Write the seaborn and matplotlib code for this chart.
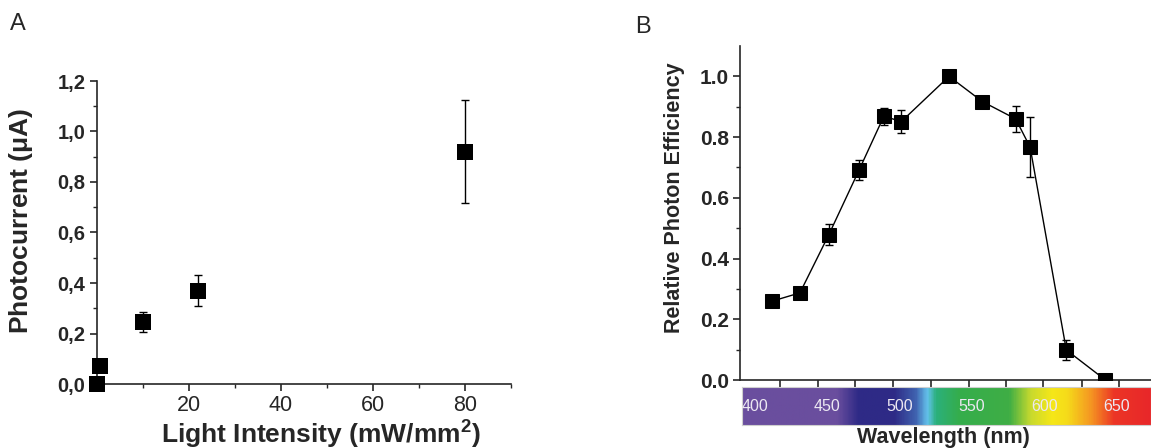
import numpy as np
import pandas as pd
import matplotlib
matplotlib.use("Agg")
import matplotlib.pyplot as plt
import seaborn as sns
from matplotlib.colors import LinearSegmentedColormap
from matplotlib.ticker import FixedLocator

# ---------------- data ----------------
# Panel A
intensity = [0.0, 0.65, 10.0, 22.0, 80.0]
photocurrent = [0.0, 0.07, 0.245, 0.37, 0.92]
photocurrent_err = [0.0, 0.0, 0.04, 0.06, 0.205]
a_yticks = [0.0, 0.2, 0.4, 0.6, 0.8, 1.0, 1.2]
a_yticklabels = ["0,0", "0,2", "0,4", "0,6", "0,8", "1,0", "1,2"]
a_yminor = [0.1, 0.3, 0.5, 0.7, 0.9, 1.1]
a_xticks = [20, 40, 60, 80]
a_xminor = [10, 30, 50, 70, 90]

# Panel B
wavelength = [412, 431, 451, 472, 489, 501, 534, 557, 580, 590, 615, 642]
efficiency = [0.26, 0.287, 0.479, 0.693, 0.869, 0.851, 1.0, 0.917, 0.86, 0.767, 0.099, 0.0]
efficiency_err = [0.01, 0.01, 0.035, 0.033, 0.028, 0.038, 0.005, 0.012, 0.042, 0.099, 0.033, 0.005]
b_yticks = [0.0, 0.2, 0.4, 0.6, 0.8, 1.0]
b_yticklabels = ["0.0", "0.2", "0.4", "0.6", "0.8", "1.0"]
b_yminor = [0.1, 0.3, 0.5, 0.7, 0.9]
b_xticks = [417.3, 443.2, 469.3, 495.5, 521.3, 547.6, 573.3, 599.1, 625.6, 651.4]
spectrum_labels = [400, 450, 500, 550, 600, 650]
spectrum_stops = [389.6, 455, 470, 495, 510, 518, 524, 540, 575, 590, 605, 615, 632, 648, 673.5]
spectrum_colors = ["#6a4e9e", "#6a4e9e", "#2e2a86", "#2e2a86", "#4063b0", "#64c3ec",
                   "#2bb07c", "#35ad4c", "#3fae45", "#c8da2e", "#f6e718", "#f5dc1a",
                   "#f59522", "#ec3526", "#e8272a"]

# ---------------- style ----------------
sns.set_style("ticks")
plt.rcParams['font.family'] = ['Liberation Sans', 'DejaVu Sans']
plt.rcParams['mathtext.fontset'] = 'custom'
plt.rcParams['mathtext.rm'] = 'Liberation Sans'
plt.rcParams['mathtext.bf'] = 'Liberation Sans:bold'

W, H = 1151, 448
fig = plt.figure(figsize=(W / 100, H / 100), dpi=100)

def frac(x0, x1, ytop, ybot):
    return [x0 / W, (H - ybot) / H, (x1 - x0) / W, (ybot - ytop) / H]

# ---------------- Panel A ----------------
axA = fig.add_axes(frac(96.7, 511, 81, 384))
dfA = pd.DataFrame({"x": intensity, "y": photocurrent})
axA.errorbar(intensity, photocurrent, yerr=photocurrent_err, fmt='none',
             ecolor='black', elinewidth=1, capsize=3, capthick=1, clip_on=False)
sns.scatterplot(data=dfA, x="x", y="y", marker='s', s=120, color='black',
                edgecolor='black', linewidth=0, ax=axA, clip_on=False, zorder=3)
axA.set_xlim(0, 90)
axA.set_ylim(0, 1.2)
axA.set_yticks(a_yticks)
axA.set_yticklabels(a_yticklabels, fontsize=14.5, fontweight='bold')
axA.yaxis.set_minor_locator(FixedLocator(a_yminor))
axA.set_xticks(a_xticks)
axA.set_xticklabels([str(v) for v in a_xticks], fontsize=15.5)
axA.xaxis.set_minor_locator(FixedLocator(a_xminor))
axA.tick_params(axis='both', which='major', direction='out', length=5, width=1.2)
axA.tick_params(axis='both', which='minor', direction='out', length=3, width=1.0)
axA.tick_params(axis='y', pad=3)
axA.tick_params(axis='x', pad=3)
sns.despine(ax=axA)
for s in ['left', 'bottom']:
    axA.spines[s].set_linewidth(1.2)
axA.set_xlabel(r"Light Intensity (mW/mm$^{\mathbf{2}}$)", fontsize=19, fontweight='bold')
axA.set_ylabel(r"Photocurrent ($\mathbf{\mu}$A)", fontsize=19, fontweight='bold')
axA.xaxis.set_label_coords(0.54, -0.11)
axA.yaxis.set_label_coords(-0.15, 0.54)
fig.text(10 / W, 1 - 24 / H, "A", fontsize=17, va='center', ha='left')

# ---------------- Panel B ----------------
axB = fig.add_axes(frac(740, 1151, 46, 380))
dfB = pd.DataFrame({"wl": wavelength, "eff": efficiency})
axB.errorbar(wavelength, efficiency, yerr=efficiency_err, fmt='none',
             ecolor='black', elinewidth=1, capsize=3, capthick=1)
sns.lineplot(data=dfB, x="wl", y="eff", color='black', lw=1, marker='s',
             markersize=10, markeredgecolor='black', ax=axB, zorder=3)
axB.set_xlim(389.6, 673.5)
axB.set_ylim(0, 1.1)
axB.set_yticks(b_yticks)
axB.set_yticklabels(b_yticklabels, fontsize=15, fontweight='bold')
axB.yaxis.set_minor_locator(FixedLocator(b_yminor))
axB.set_xticks(b_xticks)
axB.set_xticklabels([])
axB.tick_params(axis='both', which='major', direction='out', length=5, width=1.2)
axB.tick_params(axis='both', which='minor', direction='out', length=3, width=1.0)
axB.tick_params(axis='y', pad=3)
sns.despine(ax=axB)
for s in ['left', 'bottom']:
    axB.spines[s].set_linewidth(1.2)
axB.set_xlabel("")
axB.set_ylabel("Relative Photon Efficiency", fontsize=15.5, fontweight='bold')
axB.yaxis.set_label_coords(-0.135, 0.546)
fig.text(635 / W, 1 - 27 / H, "B", fontsize=17, va='center', ha='left')

# spectrum bar
axC = fig.add_axes(frac(742, 1151, 387, 425))
cmap = LinearSegmentedColormap.from_list(
    "spec", [((s - 389.6) / (673.5 - 389.6), c) for s, c in zip(spectrum_stops, spectrum_colors)])
grad = np.linspace(389.6, 673.5, 600)[None, :]
axC.imshow(grad, aspect='auto', cmap=cmap, vmin=389.6, vmax=673.5,
           extent=[391.2, 673.5, 0, 1])
axC.set_xlim(391.2, 673.5)
axC.set_ylim(0, 1)
axC.set_xticks([])
axC.set_yticks([])
for s in axC.spines.values():
    s.set_edgecolor('#cfcfcf')
    s.set_linewidth(0.8)
for lab in spectrum_labels:
    axC.text(lab, 0.5, str(lab), ha='center', va='center', fontsize=11.5,
             color='#ece8f2')

fig.text(943 / W, 1 - 443 / H, "Wavelength (nm)", fontsize=15.5, fontweight='bold',
         ha='center', va='baseline', zorder=-1)

fig.savefig("out.png", dpi=100)
